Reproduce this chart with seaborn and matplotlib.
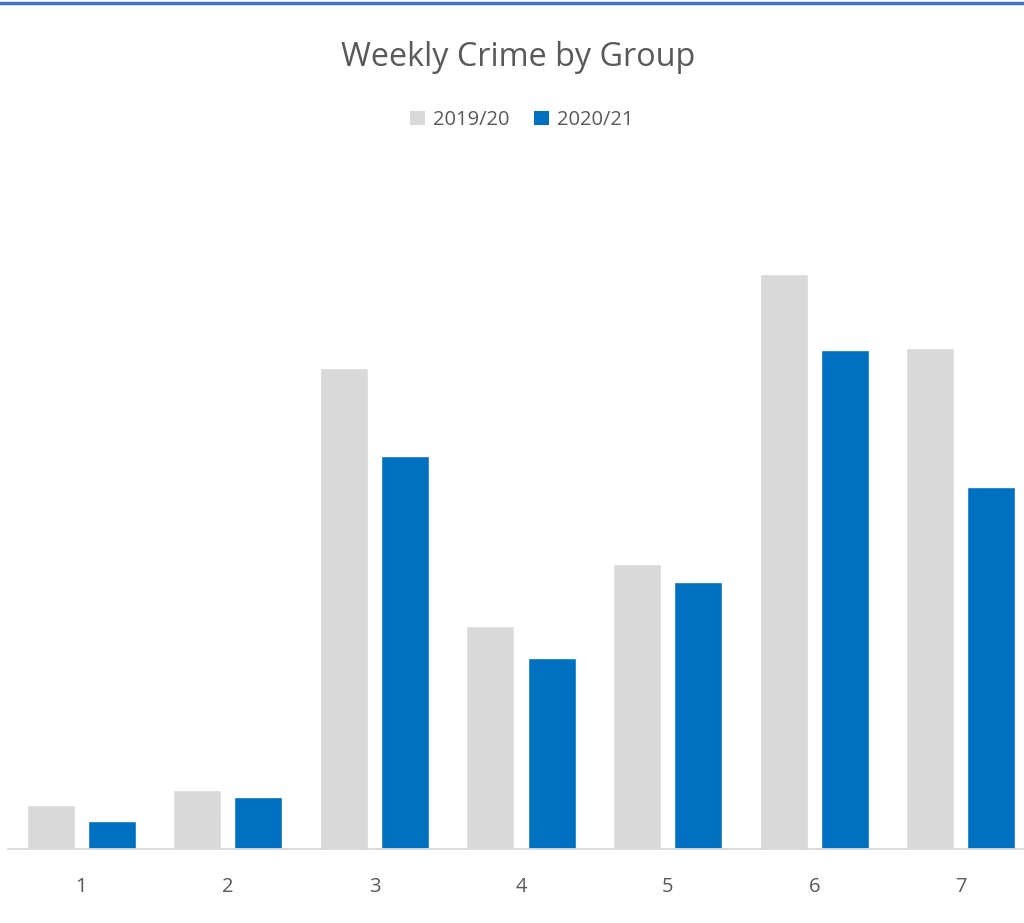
import matplotlib
matplotlib.use("Agg")
import matplotlib.pyplot as plt
from matplotlib.lines import Line2D
from matplotlib.patches import Patch
import seaborn as sns
import pandas as pd

groups = ["1", "2", "3", "4", "5", "6", "7"]
series_names = ["2019/20", "2020/21"]
values_2019 = [44, 59, 481, 223, 285, 575, 501]
values_2020 = [28, 52, 393, 191, 267, 499, 362]
colors = ["#D9D9D9", "#0070C0"]

df = pd.DataFrame({
    "Group": groups * 2,
    "Season": [series_names[0]] * len(groups) + [series_names[1]] * len(groups),
    "Count": values_2019 + values_2020,
})

sns.set_theme(style="white")
plt.rcParams['font.family'] = ['Open Sans', 'DejaVu Sans']

W, H = 1024, 923
fig = plt.figure(figsize=(W / 100, H / 100), dpi=100)
left_px, right_px = 8, 1034
base_px, top_px = 849, 249
ax = fig.add_axes([left_px / W, (H - base_px) / H, (right_px - left_px) / W, (base_px - top_px) / H])

sns.barplot(data=df, x="Group", y="Count", hue="Season", order=groups,
            hue_order=series_names, palette=colors, width=0.833, gap=0.213,
            saturation=1, ax=ax, legend=False, errorbar=None)

ax.set_xlim(-0.5, 6.5)
ax.set_ylim(0, 600)
for s in ["left", "right", "top"]:
    ax.spines[s].set_visible(False)
ax.spines["bottom"].set_color("#D9D9D9")
ax.spines["bottom"].set_linewidth(1.3)
ax.set_yticks([])
ax.set_xlabel("")
ax.set_ylabel("")
ax.tick_params(axis="x", length=0, pad=20, labelsize=14.5, labelcolor="#595959")

fig.text(518 / W, 1 - 58 / H, "Weekly Crime by Group", ha="center", va="center",
         fontsize=23.3, color="#595959")

handles = [Patch(facecolor=c, edgecolor="none") for c in colors]
fig.legend(handles, series_names, loc="center", bbox_to_anchor=(522 / W, 1 - 120 / H),
           ncol=2, frameon=False, fontsize=14.5, labelcolor="#595959",
           handlelength=0.75, handleheight=0.75, handletextpad=0.4, columnspacing=1.2)

fig.add_artist(Line2D([0, 1], [1 - 3 / H, 1 - 3 / H], transform=fig.transFigure,
                      color="#4472C4", linewidth=2.5))

fig.savefig("out.png", dpi=100)
